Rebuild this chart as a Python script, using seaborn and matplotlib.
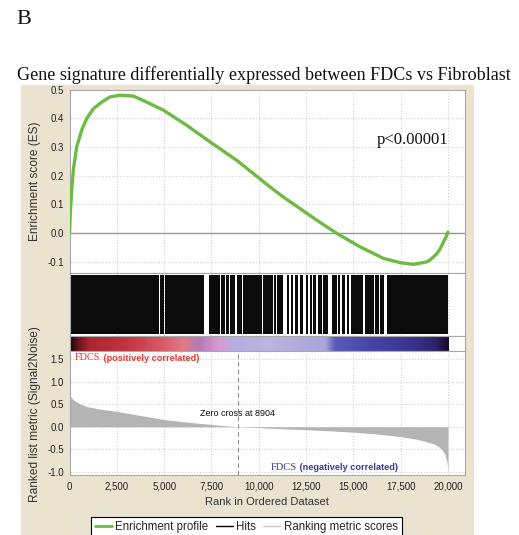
import numpy as np
import matplotlib
matplotlib.use('Agg')
import matplotlib.pyplot as plt
import seaborn as sns
from matplotlib.colors import LinearSegmentedColormap
from matplotlib.lines import Line2D
from matplotlib.patches import Rectangle
from matplotlib.ticker import StrMethodFormatter, FormatStrFormatter

# running enrichment score
es_rank = [0, 30, 60, 115, 200, 380, 645, 910, 1260, 1700, 2140, 2670, 3375, 4080, 4960,
           6200, 7430, 8840, 10600, 11300, 13070, 14130, 15360, 16590, 17480, 18180,
           18890, 19100, 19420, 19600, 19770, 19900, 20000]
es_score = [0.0, 0.05, 0.09, 0.149, 0.218, 0.30, 0.358, 0.399, 0.433, 0.456, 0.474, 0.48,
            0.477, 0.456, 0.428, 0.375, 0.317, 0.253, 0.160, 0.125, 0.044, -0.002, -0.049,
            -0.089, -0.104, -0.110, -0.101, -0.092, -0.072, -0.054, -0.031, -0.014, 0.003]

# ranked list metric (Signal2Noise)
metric_rank = [0, 50, 150, 300, 600, 900, 1500, 2500, 3750, 5000, 6250, 7500, 8300, 8904,
               10000, 11250, 12500, 13750, 15000, 16250, 17500, 18250, 18750, 19250, 19500,
               19700, 19850, 19950, 20000]
metric_value = [0.76, 0.68, 0.62, 0.57, 0.50, 0.45, 0.40, 0.34, 0.25, 0.16, 0.10, 0.05, 0.02,
                0.0, -0.02, -0.045, -0.065, -0.09, -0.12, -0.16, -0.22, -0.27, -0.32, -0.38,
                -0.44, -0.52, -0.62, -0.78, -0.97]
zero_cross = 8904

# runs of hits (black blocks) in the hits panel: start / end rank
hit_start = [0, 4770, 5035, 5335, 7377, 7995, 8265, 8460, 8830, 9160, 10235, 10800, 10960,
             11470, 11700, 11910, 12175, 12475, 12705, 12865, 13125, 13390, 13850, 14170,
             14380, 14645, 14870, 15610, 16140, 16405, 16760]
hit_end = [4745, 5010, 5310, 7112, 7970, 8235, 8420, 8765, 9135, 10175, 10760, 10935, 11305,
           11620, 11815, 12095, 12360, 12625, 12820, 13030, 13350, 13685, 14145, 14320,
           14580, 14795, 15535, 16065, 16330, 16595, 20000]

# colour bar of the ranked list
cbar_rank = [0, 400, 1000, 3000, 4800, 6000, 6800, 7800, 8700, 10500, 13500, 14000, 15500,
             18000, 19300, 20000]
cbar_color = ['#1c0808', '#6a1418', '#ac2430', '#c23440', '#d65a66', '#e07a88', '#b27ab8',
              '#d89ad2', '#b4aee2', '#bdb4e0', '#aaa4da', '#5c5cb8', '#4848a8', '#3a3490',
              '#2c2468', '#140c2c']

es_ticks = [-0.1, 0.0, 0.1, 0.2, 0.3, 0.4, 0.5]
metric_ticks = [-1.0, -0.5, 0.0, 0.5, 1.0, 1.5]
rank_ticks = [0, 2500, 5000, 7500, 10000, 12500, 15000, 17500, 20000]

sns.set_style('white')
plt.rcParams['font.family'] = ['Liberation Sans', 'DejaVu Sans']
plt.rcParams['axes.unicode_minus'] = False

W, H = 519, 535
fig = plt.figure(figsize=(W / 100, H / 100), dpi=100)
fig.patches.append(Rectangle((21 / W, 0), 452 / W, 450 / H, transform=fig.transFigure,
                             color='#e9e3d0', zorder=-5))


def box(top, bottom):
    return [69.5 / W, 1 - bottom / H, 395.5 / W, (bottom - top) / H]


ax_es = fig.add_axes(box(89.5, 273))
ax_hit = fig.add_axes(box(273, 336))
ax_bar = fig.add_axes(box(336, 351))
ax_met = fig.add_axes(box(351, 475))

xmax = 20900
for ax in [ax_es, ax_hit, ax_bar, ax_met]:
    ax.set_facecolor('white')
    ax.set_xlim(0, xmax)
    ax.set_xticks(rank_ticks)
    for s in ax.spines.values():
        s.set_color('#a8a8a8')
        s.set_linewidth(0.8)
    ax.tick_params(axis='both', length=2, color='#999999', labelsize=7,
                   labelcolor='#222222', pad=2)
    ax.tick_params(axis='x', labelbottom=False)
    if ax is not ax_bar:
        ax.grid(True, ls=':', color='#cfcfcf', lw=0.8)
        ax.set_axisbelow(True)

# enrichment profile
ax_es.axhline(0, color='#9a9a9a', lw=1, zorder=1)
sns.lineplot(x=es_rank, y=es_score, ax=ax_es, color='#6dbb45', lw=2.4, sort=False, zorder=3)
ax_es.set_ylim(-0.14, 0.5)
ax_es.set_yticks(es_ticks)
ax_es.yaxis.set_major_formatter(FormatStrFormatter('%.1f'))
ax_es.text(20000, 0.323, 'p<0.00001', ha='right', va='center', fontsize=12,
           family='Liberation Serif', color='#111111')

# hits
ax_hit.broken_barh([(s, e - s) for s, e in zip(hit_start, hit_end)], (0.03, 0.94),
                   facecolor='#0b0b0b', edgecolor='none', zorder=2)
ax_hit.set_ylim(0, 1)
ax_hit.set_yticks([])
ax_hit.tick_params(axis='x', length=0)

# ranked list colour bar
cmap = LinearSegmentedColormap.from_list(
    'rank', [(r / cbar_rank[-1], c) for r, c in zip(cbar_rank, cbar_color)])
ax_bar.imshow(np.linspace(0, 1, 1000)[None, :], cmap=cmap, aspect='auto',
              extent=[0, cbar_rank[-1], 0.03, 0.97])
ax_bar.set_xlim(0, xmax)
ax_bar.set_ylim(0, 1)
ax_bar.set_yticks([])
ax_bar.tick_params(axis='x', length=0)

# ranked list metric
ax_met.fill_between(metric_rank, metric_value, 0, color='#b4b4b4', lw=0, zorder=2)
ax_met.axvline(zero_cross, color='#8c8c8c', ls=(0, (4, 3)), lw=0.8, zorder=3)
ax_met.set_ylim(-1.07, 1.68)
ax_met.set_yticks(metric_ticks)
ax_met.yaxis.set_major_formatter(FormatStrFormatter('%.1f'))
ax_met.tick_params(axis='x', labelbottom=True, pad=3)
ax_met.xaxis.set_major_formatter(StrMethodFormatter('{x:,.0f}'))
ax_met.text(zero_cross, 0.30, f'Zero cross at {zero_cross}', ha='center', va='center',
            fontsize=6.5, color='#111111')

t1 = ax_met.text(300, 1.53, 'FDCS', ha='left', va='center', fontsize=7.4,
                 family='Liberation Serif', color='#e53a30')
ax_met.annotate(' (positively correlated)', xy=(1, 0.45), xycoords=t1, ha='left',
                va='center', fontsize=6.6, fontweight='bold', color='#e53a30')
t2 = ax_met.text(10640, -0.895, 'FDCS', ha='left', va='center', fontsize=7.6,
                 family='Liberation Serif', color='#3a3a9a')
ax_met.annotate(' (negatively correlated)', xy=(1, 0.45), xycoords=t2, ha='left',
                va='center', fontsize=6.6, fontweight='bold', color='#3a3a9a')

# axis labels
fig.text(35 / W, 1 - 181 / H, 'Enrichment score (ES)', rotation=90, ha='center',
         va='center', fontsize=8.6, color='#333333')
fig.text(35 / W, 1 - 414 / H, 'Ranked list metric (Signal2Noise)', rotation=90,
         ha='center', va='center', fontsize=8.6, color='#333333')
fig.text(267 / W, 1 - 502 / H, 'Rank in Ordered Dataset', ha='center', va='center',
         fontsize=8, color='#333333')

# titles
fig.text(16 / W, 1 - 20 / H, 'B', ha='left', va='center', fontsize=16,
         family='Liberation Serif', color='#111111')
fig.text(263.5 / W, 1 - 75 / H,
         'Gene signature differentially expressed between FDCs vs Fibroblast',
         ha='center', va='center', fontsize=13.1, family='Liberation Serif', color='#111111')

# legend
handles = [Line2D([], [], color='#6dbb45', lw=2),
           Line2D([], [], color='black', lw=1),
           Line2D([], [], color='#c8c8c8', lw=1)]
leg = fig.legend(handles, ['Enrichment profile', 'Hits', 'Ranking metric scores'],
                 loc='upper left', bbox_to_anchor=(90.7 / W, 1 - 516.7 / H), ncol=3,
                 frameon=True, fancybox=False, edgecolor='black', framealpha=1,
                 fontsize=8.3, handlelength=1.5, handletextpad=0.3, columnspacing=0.6,
                 borderaxespad=0, borderpad=0.35)
leg.get_frame().set_linewidth(0.8)

fig.savefig('out.png', dpi=100)
